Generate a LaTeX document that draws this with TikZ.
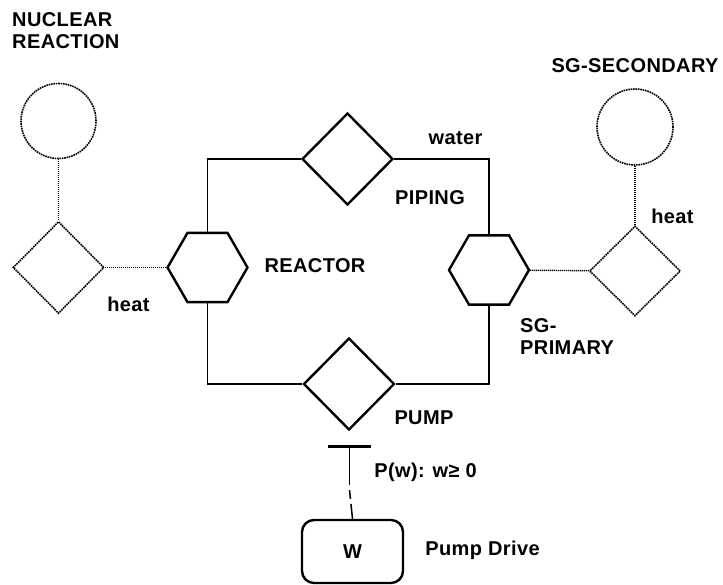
\documentclass[tikz,border=0pt]{standalone}
\usepackage{fontspec}
\setmainfont{Liberation Sans}[LetterSpace=2]
\usetikzlibrary{arrows.meta, positioning, shapes.geometric}

\begin{document}
\begin{tikzpicture}[x=1pt, y=-1pt, font=\fontsize{20}{22}\selectfont\bfseries,
  part/.style={draw, line width=2.4pt, inner sep=0pt},
  hexa/.style={part, regular polygon, regular polygon sides=6, minimum size=80pt},
  junc/.style={part, diamond, minimum width=91pt, minimum height=92pt},
  outline/.style={draw, dash pattern=on 1.6pt off 0.8pt, line width=1.6pt, inner sep=0pt},
  pipe/.style={line width=1.5pt},
  link/.style={dash pattern=on 1.2pt off 0.8pt, line width=1.4pt},
  lbl/.style={inner sep=0pt}]
\useasboundingbox (0,0) rectangle (723,585);

% water loop
\node[hexa] (reactor) at (207.5,267.5) {};
\node[hexa] (sgp) at (489,270) {};
\node[junc] (piping) at (347.5,159) {};
\node[junc] (pump) at (349,384) {};

\draw[pipe] (reactor.north) |- (piping.west);
\draw[pipe] (piping.east) -| (sgp.north);
\draw[pipe] (reactor.south) |- (pump.west);
\draw[pipe] (pump.east) -| (sgp.south);

% heat sources and sinks
\node[outline, circle, minimum size=75pt] (nuc) at (58.5,121) {};
\node[outline, diamond, minimum width=91pt, minimum height=92pt] (nucd) at (58.5,267.5) {};
\node[outline, circle, minimum size=76pt] (sgs) at (635,127) {};
\node[outline, diamond, minimum width=91pt, minimum height=90pt] (sgsd) at (635,271) {};

\draw[link] (nuc) -- (nucd);
\draw[link] (nucd) -- (reactor);
\draw[link] (sgs) -- (sgsd);
\draw[link] (sgp) -- (sgsd);

% pump drive
\node[part, rounded corners=12pt, minimum width=101pt, minimum height=63pt] (drive) at (352.5,551.5) {W};
\coordinate (gap) at (349.5,490);
\coordinate (cut) at (349.5,485);
\coordinate (tee) at (349.5,445);
\draw[line width=1.5pt, dash pattern=on 15pt off 5pt] (drive.north) -- (gap);
\draw[line width=1.5pt, -{Bar[width=43pt, line width=3pt]}] (cut) -- (tee);

% labels
\node[lbl, anchor=west, align=left] (nuclbl) at (12,31) {NUCLEAR\\REACTION};
\node[lbl] (heatl) at (128.5,304) {heat};
\node[lbl] (reactlbl) at (315,266) {REACTOR};
\node[lbl] (pipelbl) at (430,198) {PIPING};
\node[lbl] (waterlbl) at (455.5,138) {water};
\node[lbl] (sgslbl) at (635,66) {SG-SECONDARY};
\node[lbl] (heatr) at (672.5,216) {heat};
\node[lbl, anchor=west, align=left] (sgplbl) at (520,337) {SG-\\PRIMARY};
\node[lbl] (pumplbl) at (424,418) {PUMP};
\node[lbl] (powlbl) at (425.5,472) {P(w): w≥ 0};
\node[lbl] (drivelbl) at (482.5,550) {Pump Drive};
\end{tikzpicture}
\end{document}
